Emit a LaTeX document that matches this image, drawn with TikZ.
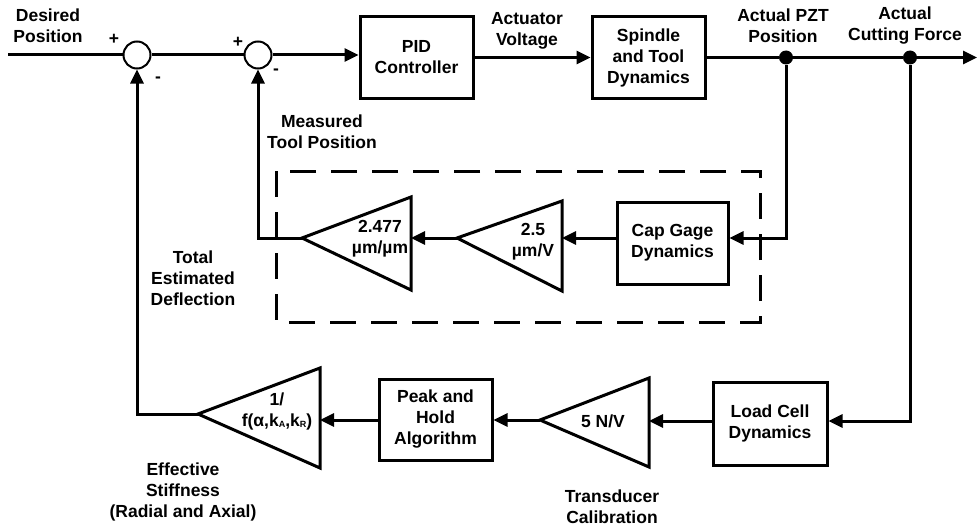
\documentclass[tikz,border=0pt]{standalone}
\usepackage{fontspec}
\setmainfont{Liberation Sans}
\usetikzlibrary{arrows.meta}
\begin{document}
\begin{tikzpicture}[x=1pt,y=-1pt,
  every node/.style={font=\bfseries\fontsize{17.5}{21}\selectfont, align=center, inner sep=0pt},
  wire/.style={line width=3pt},
  arr/.style={wire,-{Triangle[length=14pt,width=13pt]}},
  blk/.style={draw,line width=3pt,minimum width=113pt,minimum height=81pt},
  sumj/.style={draw,circle,line width=2pt,minimum size=27pt,fill=white},
  tap/.style={circle,fill,minimum size=14pt},
  amp/.style={draw,line width=3pt,line join=miter}
]
\useasboundingbox (0,0) rectangle (977,527);
\newcommand{\smallsub}[1]{\raisebox{-1.5pt}{\fontsize{9}{9}\selectfont #1}}

% forward path
\coordinate (in) at (8,55);
\node[sumj] (s1) at (137,55) {};
\node[sumj] (s2) at (258,55) {};
\node[blk] (pid) at (416.5,57.5) {PID\\Controller};
\node[blk] (plant) at (648.5,57.5) {Spindle\\and Tool\\Dynamics};
\node[tap] (t1) at (786,57.5) {};
\node[tap] (t2) at (910,57.5) {};
\coordinate (out) at (977,57.5);

\draw[wire] (in) -- (s1.west);
\draw[wire] (s1.east) -- (s2.west);
\draw[arr] (s2.east) -- (s2.east -| pid.west);
\draw[arr] (pid.east) -- (plant.west);
\draw[wire] (plant.east) -- (t1) -- (t2);
\draw[arr] (t2) -- (out);

% measurement loop (cap gage)
\coordinate (r1) at (0,238);
\node[blk, minimum width=111pt, minimum height=82pt] (cap) at (672.5,243) {Cap Gage\\Dynamics};
\coordinate (a2tip) at (457,238);
\coordinate (a2base) at (562,238);
\draw[amp] (562,201) -- (a2tip) -- (562,291) -- cycle;
\node (a2txt) at (533,242) {2.5\\µm/V};
\coordinate (a1tip) at (302,238);
\coordinate (a1base) at (411,238);
\draw[amp] (411,197) -- (a1tip) -- (411,290) -- cycle;
\node (a1txt) at (380,239) {2.477\\µm/µm};

\draw[arr] (t1) |- (r1 -| cap.east);
\draw[arr] (r1 -| cap.west) -- (a2base);
\draw[arr] (a2tip) -- (a1base);
\draw[arr] (a1tip) -| (s2.south);

\draw[line width=3pt, dash pattern=on 26pt off 15pt] (276,171) rectangle (760,322);

% force loop (load cell)
\coordinate (r2) at (0,421);
\node[blk, minimum width=114pt, minimum height=83pt] (load) at (770,423.5) {Load Cell\\Dynamics};
\coordinate (a3tip) at (540,420);
\coordinate (a3base) at (649,421);
\draw[amp] (649,378) -- (a3tip) -- (649,467) -- cycle;
\node (a3txt) at (603,421) {5 N/V};
\node[blk, minimum width=113pt, minimum height=81pt] (peak) at (435.5,419.5) {Peak and\\Hold\\Algorithm};
\coordinate (a4tip) at (198,414);
\coordinate (a4base) at (320,420);
\draw[amp] (320,368) -- (a4tip) -- (320,468) -- cycle;
\node (a4txt) at (277,411) {1/\\f(α,k\smallsub{A},k\smallsub{R})};

\draw[arr] (t2) |- (r2 -| load.east);
\draw[arr] (r2 -| load.west) -- (a3base);
\draw[arr] (a3tip) -- (peak.east |- a3tip);
\draw[arr] (peak.west |- a4base) -- (a4base);
\draw[arr] (a4tip) -| (s1.south);

% signal labels
\node (l1) at (48,26) {Desired\\Position};
\node (l2) at (527,31) {Actuator\\Voltage};
\node (l3) at (783,26) {Actual PZT\\Position};
\node (l4) at (905,26) {Actual\\Cutting Force};
\node (p1) at (114,39) {+};
\node (m1) at (158,80) {-};
\node (p2) at (238,42) {+};
\node (m2) at (276,72) {-};
\node (l5) at (322,132) {Measured\\Tool Position};
\node (l6) at (193,278) {Total\\Estimated\\Deflection};
\node (l7) at (183,492) {Effective\\Stiffness\\(Radial and Axial)};
\node (l8) at (612,507) {Transducer\\Calibration};
\end{tikzpicture}
\end{document}
